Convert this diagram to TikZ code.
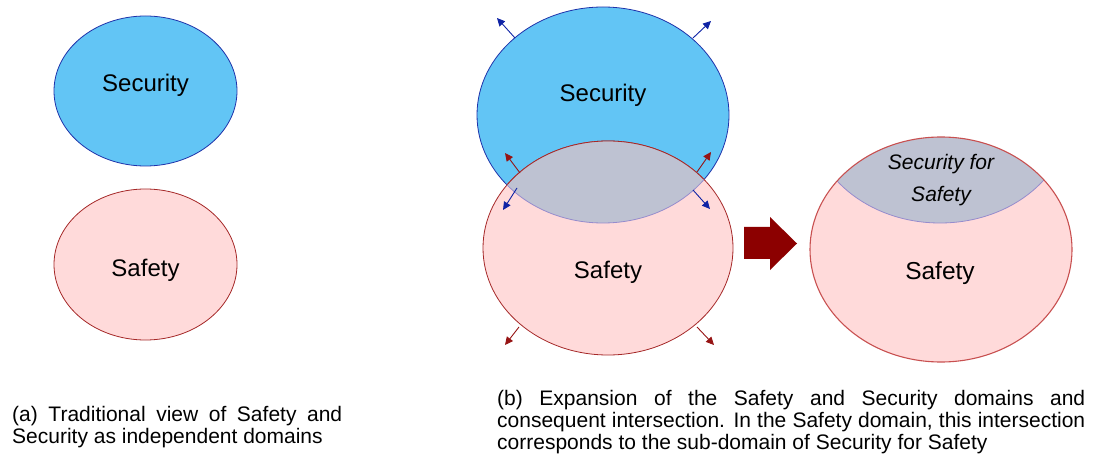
\documentclass[tikz,border=0pt]{standalone}
\usepackage{fontspec}
\setmainfont{Liberation Sans}
\usetikzlibrary{shapes.geometric,arrows.meta}
\definecolor{secfill}{RGB}{98,197,245}
\definecolor{secline}{RGB}{30,50,170}
\definecolor{saffill}{RGB}{255,218,218}
\definecolor{safline}{RGB}{165,40,40}
\definecolor{safline2}{RGB}{200,80,80}
\definecolor{ovfill}{RGB}{190,194,210}
\definecolor{ovline}{RGB}{150,140,205}
\definecolor{bluearr}{RGB}{15,35,165}
\definecolor{redarr}{RGB}{150,20,20}
\definecolor{blockred}{RGB}{140,0,0}
\begin{document}
\begin{tikzpicture}[x=1pt,y=-1pt,
  secdom/.style={ellipse,draw=secline,fill=secfill,line width=0.8pt,inner sep=0pt},
  safdom/.style={ellipse,draw=safline,fill=saffill,line width=0.8pt,inner sep=0pt},
  lbl/.style={font=\fontsize{24}{28}\selectfont,inner sep=0pt},
  captext/.style={font={\fontsize{21}{22}\selectfont\hyphenpenalty=10000\exhyphenpenalty=10000},inner sep=0pt,anchor=north west,align=justify},
  barr/.style={draw=bluearr,line width=0.9pt,-{Triangle[length=8pt,width=7.5pt]}},
  rarr/.style={draw=redarr,line width=0.9pt,-{Triangle[length=8pt,width=7.5pt]}}]
\useasboundingbox (0,0) rectangle (1094,462);

% (a) independent domains
\node[secdom,minimum width=183pt,minimum height=150pt] (secA) at (145.5,91) {};
\node[safdom,minimum width=183pt,minimum height=151pt] (safA) at (145.5,264.5) {};
\node[lbl] (secAl) at (145.5,85) {Security};
\node[lbl] (safAl) at (145.5,270) {Safety};

% (b) expansion and intersection
\node[secdom,minimum width=252pt,minimum height=216pt] (secB) at (603,115) {};
\node[safdom,minimum width=250pt,minimum height=214pt] (safB) at (608,248) {};
\begin{scope}
  \clip (603,115) ellipse [x radius=126pt,y radius=108pt];
  \fill[ovfill] (608,248) ellipse [x radius=125pt,y radius=107pt];
  \draw[safline,line width=0.8pt] (608,248) ellipse [x radius=125pt,y radius=107pt];
\end{scope}
\begin{scope}
  \clip (608,248) ellipse [x radius=125pt,y radius=107pt];
  \draw[ovline,line width=0.8pt] (603,115) ellipse [x radius=126pt,y radius=108pt];
\end{scope}
\node[lbl] (secBl) at (603,95) {Security};
\node[lbl] (safBl) at (608,272) {Safety};

% expansion arrows
\coordinate (b1s) at (515,38);  \coordinate (b1e) at (497,18);
\coordinate (b2s) at (693,38);  \coordinate (b2e) at (711,21);
\coordinate (b3s) at (517,188); \coordinate (b3e) at (503,210);
\coordinate (b4s) at (693,190); \coordinate (b4e) at (710,209);
\coordinate (r1s) at (520,173); \coordinate (r1e) at (505,153);
\coordinate (r2s) at (697,172); \coordinate (r2e) at (711,152);
\coordinate (r3s) at (519,327); \coordinate (r3e) at (505,345);
\coordinate (r4s) at (697,327); \coordinate (r4e) at (714,345);
\draw[barr] (b1s) -- (b1e);
\draw[barr] (b2s) -- (b2e);
\draw[barr] (b3s) -- (b3e);
\draw[barr] (b4s) -- (b4e);
\draw[rarr] (r1s) -- (r1e);
\draw[rarr] (r2s) -- (r2e);
\draw[rarr] (r3s) -- (r3e);
\draw[rarr] (r4s) -- (r4e);

% block arrow
\fill[blockred] (744,227) -- (770,227) -- (770,217) -- (797,243.5) -- (770,270) -- (770,259) -- (744,259) -- cycle;

% resulting safety domain
\node[ellipse,fill=saffill,inner sep=0pt,minimum width=262pt,minimum height=225pt] (safC) at (941,249.5) {};
\begin{scope}
  \clip (941,249.5) ellipse [x radius=131pt,y radius=112.5pt];
  \fill[ovfill] (940,115) ellipse [x radius=130pt,y radius=108pt];
  \draw[ovline,line width=0.8pt] (940,115) ellipse [x radius=130pt,y radius=108pt];
\end{scope}
\draw[safline2,line width=1.1pt] (941,249.5) ellipse [x radius=131pt,y radius=112.5pt];
\node[font=\fontsize{21}{32}\selectfont\itshape,inner sep=0pt,align=center] (sfs) at (941,180.5) {Security for\\Safety};
\node[lbl,font=\fontsize{24.5}{28}\selectfont] (safCl) at (940,273) {Safety};

% captions
\node[captext,text width=330pt] (capA) at (12,406.5) {(a) Traditional view of Safety and Security as independent domains};
\node[captext,text width=588pt] (capB) at (497,390.5) {(b) Expansion of the Safety and Security domains and consequent intersection. In the Safety domain, this intersection corresponds to the sub-domain of Security for Safety};
\end{tikzpicture}
\end{document}
